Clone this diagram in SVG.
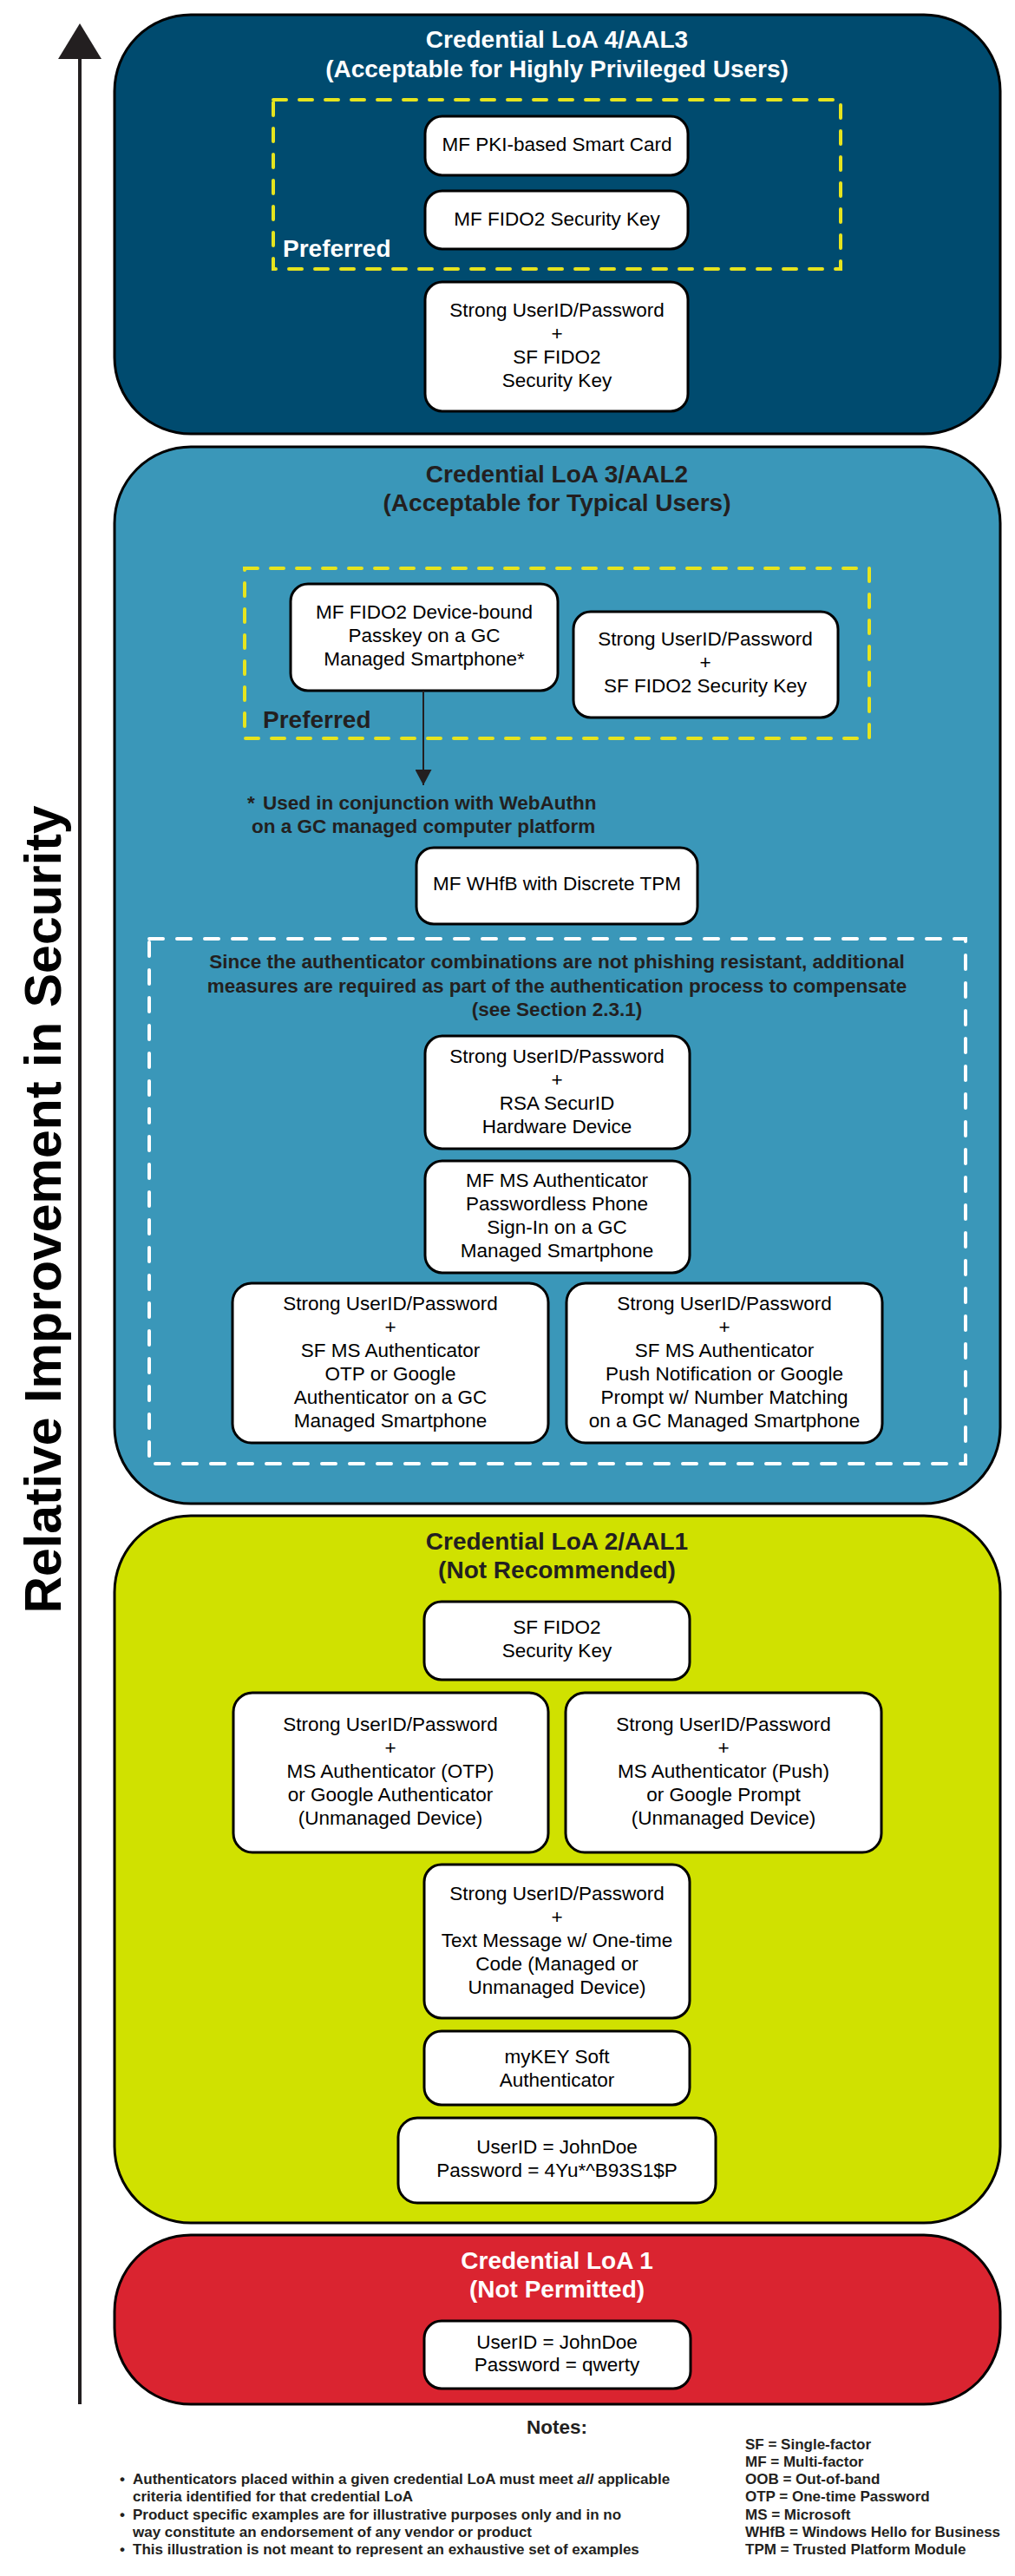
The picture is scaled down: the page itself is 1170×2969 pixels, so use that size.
<svg xmlns="http://www.w3.org/2000/svg" width="1170" height="2969" viewBox="0 0 1170 2969">
<style>
text{font-family:"Liberation Sans",Arial,sans-serif;}
.t{font-size:22.5px;fill:#000;text-anchor:middle;}
.title{font-size:28px;font-weight:bold;text-anchor:middle;}
.w{fill:#fff;}
.d{fill:#231f20;}
.pref{font-size:28px;font-weight:bold;}
.note{font-size:22.5px;font-weight:bold;fill:#231f20;}
.sm{font-size:17px;font-weight:bold;fill:#231f20;}
.box{fill:#fff;stroke:#000;stroke-width:3;}
.outer{stroke:#000;stroke-width:3;}
.ydash{fill:none;stroke:#E6E41E;stroke-width:4;stroke-dasharray:15 15;stroke-linecap:round;}
.wdash{fill:none;stroke:#fff;stroke-width:4;stroke-dasharray:16 16;stroke-linecap:round;}
</style>
<defs>
<marker id="ah" viewBox="0 0 18 19" refX="18" refY="9.5" markerWidth="18" markerHeight="19" markerUnits="userSpaceOnUse" orient="auto">
<path d="M0,0 L18,9.5 L0,19 Z" fill="#231f20"/>
</marker>
</defs>
<rect width="1170" height="2969" fill="#fff"/>

<g id="axis">
<line x1="92" y1="66" x2="92" y2="2771" stroke="#231f20" stroke-width="4"/>
<polygon points="92,27 67,68 117,68" fill="#231f20"/>
<text transform="translate(70,1394) rotate(-90)" font-size="59" font-weight="bold" text-anchor="middle" fill="#000">Relative Improvement in Security</text>
</g>

<g id="loa4">
<rect class="outer" x="132" y="17" width="1021" height="483" rx="88" ry="88" fill="#004B6F"/>
<text class="title w" x="642" y="55">Credential LoA 4/AAL3</text>
<text class="title w" x="642" y="89">(Acceptable for Highly Privileged Users)</text>
</g>
<g id="loa4-preferred">
<rect class="ydash" x="315" y="115" width="654" height="195"/>
<text class="pref w" x="326" y="296">Preferred</text>
</g>
<g id="loa4-smartcard">
<rect class="box" x="490" y="134" width="303" height="68" rx="20"/>
<text class="t" x="642" y="174">MF PKI-based Smart Card</text>
</g>
<g id="loa4-fido2key">
<rect class="box" x="490" y="220" width="303" height="67" rx="20"/>
<text class="t" x="642" y="260">MF FIDO2 Security Key</text>
</g>
<g id="loa4-pwd-sffido2">
<rect class="box" x="490" y="325" width="303" height="149" rx="20"/>
<text class="t" x="642" y="365">Strong UserID/Password</text>
<text class="t" x="642" y="392">+</text>
<text class="t" x="642" y="419">SF FIDO2</text>
<text class="t" x="642" y="446">Security Key</text>
</g>

<g id="loa3">
<rect class="outer" x="132" y="515" width="1021" height="1218" rx="88" ry="88" fill="#3A97B9"/>
<text class="title d" x="642" y="556">Credential LoA 3/AAL2</text>
<text class="title d" x="642" y="589">(Acceptable for Typical Users)</text>
</g>
<g id="loa3-preferred">
<rect class="ydash" x="282" y="655" width="720" height="196"/>
<text class="pref d" x="303" y="839">Preferred</text>
</g>
<g id="loa3-passkey">
<rect class="box" x="335" y="673" width="308" height="123" rx="20"/>
<text class="t" x="489" y="713">MF FIDO2 Device-bound</text>
<text class="t" x="489" y="740">Passkey on a GC</text>
<text class="t" x="489" y="767">Managed Smartphone*</text>
</g>
<g id="loa3-pwd-sffido2">
<rect class="box" x="661" y="705" width="305" height="122" rx="20"/>
<text class="t" x="813" y="744">Strong UserID/Password</text>
<text class="t" x="813" y="771">+</text>
<text class="t" x="813" y="798">SF FIDO2 Security Key</text>
</g>
<g id="loa3-footnote">
<text class="note" x="285" y="933">*</text>
<text class="note" x="303" y="933">Used in conjunction with WebAuthn</text>
<text class="note" x="290" y="960">on a GC managed computer platform</text>
</g>
<g id="loa3-whfb">
<rect class="box" x="480" y="977" width="324" height="88" rx="20"/>
<text class="t" x="642" y="1026">MF WHfB with Discrete TPM</text>
</g>
<g id="loa3-nonphishing">
<rect class="wdash" x="172" y="1082" width="941" height="605"/>
<text class="note" x="642" y="1116" text-anchor="middle">Since the authenticator combinations are not phishing resistant, additional</text>
<text class="note" x="642" y="1144" text-anchor="middle">measures are required as part of the authentication process to compensate</text>
<text class="note" x="642" y="1171" text-anchor="middle">(see Section 2.3.1)</text>
</g>
<g id="loa3-rsa">
<rect class="box" x="490" y="1194" width="305" height="130" rx="20"/>
<text class="t" x="642" y="1225">Strong UserID/Password</text>
<text class="t" x="642" y="1252">+</text>
<text class="t" x="642" y="1279">RSA SecurID</text>
<text class="t" x="642" y="1306">Hardware Device</text>
</g>
<g id="loa3-passwordless">
<rect class="box" x="490" y="1338" width="305" height="129" rx="20"/>
<text class="t" x="642" y="1368">MF MS Authenticator</text>
<text class="t" x="642" y="1395">Passwordless Phone</text>
<text class="t" x="642" y="1422">Sign-In on a GC</text>
<text class="t" x="642" y="1449">Managed Smartphone</text>
</g>
<g id="loa3-otp">
<rect class="box" x="268" y="1479" width="364" height="184" rx="22"/>
<text class="t" x="450" y="1510">Strong UserID/Password</text>
<text class="t" x="450" y="1537">+</text>
<text class="t" x="450" y="1564">SF MS Authenticator</text>
<text class="t" x="450" y="1591">OTP or Google</text>
<text class="t" x="450" y="1618">Authenticator on a GC</text>
<text class="t" x="450" y="1645">Managed Smartphone</text>
</g>
<g id="loa3-push">
<rect class="box" x="653" y="1479" width="364" height="184" rx="22"/>
<text class="t" x="835" y="1510">Strong UserID/Password</text>
<text class="t" x="835" y="1537">+</text>
<text class="t" x="835" y="1564">SF MS Authenticator</text>
<text class="t" x="835" y="1591">Push Notification or Google</text>
<text class="t" x="835" y="1618">Prompt w/ Number Matching</text>
<text class="t" x="835" y="1645">on a GC Managed Smartphone</text>
</g>

<g id="loa2">
<rect class="outer" x="132" y="1747" width="1021" height="815" rx="88" ry="88" fill="#D0E100"/>
<text class="title d" x="642" y="1786">Credential LoA 2/AAL1</text>
<text class="title d" x="642" y="1819">(Not Recommended)</text>
</g>
<g id="loa2-sffido2">
<rect class="box" x="489" y="1846" width="306" height="90" rx="20"/>
<text class="t" x="642" y="1883">SF FIDO2</text>
<text class="t" x="642" y="1910">Security Key</text>
</g>
<g id="loa2-otp">
<rect class="box" x="269" y="1951" width="363" height="184" rx="22"/>
<text class="t" x="450" y="1995">Strong UserID/Password</text>
<text class="t" x="450" y="2022">+</text>
<text class="t" x="450" y="2049">MS Authenticator (OTP)</text>
<text class="t" x="450" y="2076">or Google Authenticator</text>
<text class="t" x="450" y="2103">(Unmanaged Device)</text>
</g>
<g id="loa2-push">
<rect class="box" x="652" y="1951" width="364" height="184" rx="22"/>
<text class="t" x="834" y="1995">Strong UserID/Password</text>
<text class="t" x="834" y="2022">+</text>
<text class="t" x="834" y="2049">MS Authenticator (Push)</text>
<text class="t" x="834" y="2076">or Google Prompt</text>
<text class="t" x="834" y="2103">(Unmanaged Device)</text>
</g>
<g id="loa2-sms">
<rect class="box" x="489" y="2149" width="306" height="177" rx="20"/>
<text class="t" x="642" y="2190">Strong UserID/Password</text>
<text class="t" x="642" y="2217">+</text>
<text class="t" x="642" y="2244">Text Message w/ One-time</text>
<text class="t" x="642" y="2271">Code (Managed or</text>
<text class="t" x="642" y="2298">Unmanaged Device)</text>
</g>
<g id="loa2-mykey">
<rect class="box" x="489" y="2341" width="306" height="85" rx="20"/>
<text class="t" x="642" y="2378">myKEY Soft</text>
<text class="t" x="642" y="2405">Authenticator</text>
</g>
<g id="loa2-strongpwd">
<rect class="box" x="459" y="2441" width="366" height="98" rx="22"/>
<text class="t" x="642" y="2482">UserID = JohnDoe</text>
<text class="t" x="642" y="2509">Password = 4Yu*^B93S1$P</text>
</g>

<g id="loa1">
<rect class="outer" x="132" y="2576" width="1021" height="195" rx="88" ry="88" fill="#DA2430"/>
<text class="title w" x="642" y="2615">Credential LoA 1</text>
<text class="title w" x="642" y="2648">(Not Permitted)</text>
</g>
<g id="loa1-weakpwd">
<rect class="box" x="489" y="2675" width="307" height="78" rx="20"/>
<text class="t" x="642" y="2707">UserID = JohnDoe</text>
<text class="t" x="642" y="2733">Password = qwerty</text>
</g>

<g id="connectors">
<line x1="488" y1="796" x2="488" y2="905" stroke="#231f20" stroke-width="2" marker-end="url(#ah)"/>
</g>

<g id="notes">
<text class="note" x="642" y="2805" text-anchor="middle">Notes:</text>
<text class="sm" x="138" y="2863">•</text>
<text class="sm" x="153" y="2863">Authenticators placed within a given credential LoA must meet <tspan font-style="italic">all</tspan> applicable</text>
<text class="sm" x="153" y="2883">criteria identified for that credential LoA</text>
<text class="sm" x="138" y="2904">•</text>
<text class="sm" x="153" y="2904">Product specific examples are for illustrative purposes only and in no</text>
<text class="sm" x="153" y="2924">way constitute an endorsement of any vendor or product</text>
<text class="sm" x="138" y="2944">•</text>
<text class="sm" x="153" y="2944">This illustration is not meant to represent an exhaustive set of examples</text>
</g>
<g id="legend">
<text class="sm" x="859" y="2823">SF = Single-factor</text>
<text class="sm" x="859" y="2843">MF = Multi-factor</text>
<text class="sm" x="859" y="2863">OOB = Out-of-band</text>
<text class="sm" x="859" y="2883">OTP = One-time Password</text>
<text class="sm" x="859" y="2904">MS = Microsoft</text>
<text class="sm" x="859" y="2924">WHfB = Windows Hello for Business</text>
<text class="sm" x="859" y="2944">TPM = Trusted Platform Module</text>
</g>
</svg>
